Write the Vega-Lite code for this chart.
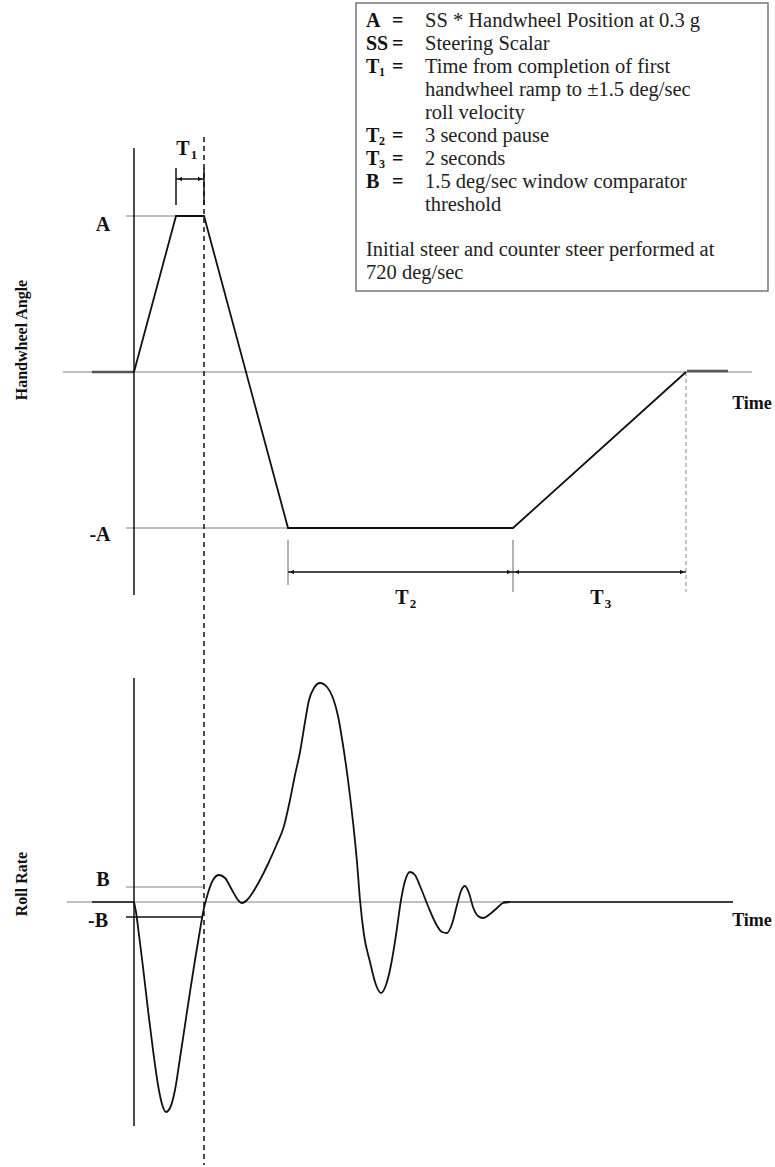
{
  "$schema": "https://vega.github.io/schema/vega-lite/v6.json",
  "width": 775,
  "height": 1167,
  "autosize": {"type": "none"},
  "padding": 0,
  "background": "white",
  "config": {"view": {"stroke": null}},
  "datasets": {
    "legendBox": [{"x": 356, "x2": 768, "y": 3, "y2": 291}],
    "greyRules": [
      {"x": 63, "x2": 752, "y": 372, "y2": 372},
      {"x": 126, "x2": 176, "y": 216, "y2": 216},
      {"x": 126, "x2": 288, "y": 528, "y2": 528},
      {"x": 288, "x2": 288, "y": 540, "y2": 585},
      {"x": 513, "x2": 513, "y": 540, "y2": 592},
      {"x": 67, "x2": 733, "y": 902, "y2": 902},
      {"x": 126, "x2": 203, "y": 887, "y2": 887}
    ],
    "thickGrey": [
      {"x": 92, "x2": 134, "y": 372, "y2": 372},
      {"x": 687, "x2": 728, "y": 371, "y2": 371}
    ],
    "blackRules": [
      {"x": 134, "x2": 134, "y": 148, "y2": 595},
      {"x": 134, "x2": 134, "y": 678, "y2": 1126},
      {"x": 92, "x2": 134, "y": 902, "y2": 902},
      {"x": 503, "x2": 733, "y": 902, "y2": 902},
      {"x": 126, "x2": 203, "y": 917, "y2": 917},
      {"x": 176, "x2": 176, "y": 168, "y2": 205},
      {"x": 204, "x2": 204, "y": 168, "y2": 205},
      {"x": 176, "x2": 204, "y": 179, "y2": 179},
      {"x": 288, "x2": 686, "y": 572, "y2": 572}
    ],
    "dashedBlack": [{"x": 204, "x2": 204, "y": 137, "y2": 1165}],
    "dashedGrey": [{"x": 686, "x2": 686, "y": 372, "y2": 592}],
    "arrowHeads": [
      {"x": 180, "y": 179, "dir": "left"},
      {"x": 200, "y": 179, "dir": "right"},
      {"x": 292, "y": 572, "dir": "left"},
      {"x": 509, "y": 572, "dir": "right"},
      {"x": 517, "y": 572, "dir": "left"},
      {"x": 682, "y": 572, "dir": "right"}
    ],
    "handwheel": [
      {"x": 134, "y": 372},
      {"x": 176, "y": 216},
      {"x": 204, "y": 216},
      {"x": 288, "y": 528},
      {"x": 513, "y": 528},
      {"x": 686, "y": 372}
    ],
    "rollRate": [
      {"x": 134, "y": 902}, {"x": 136, "y": 912}, {"x": 139, "y": 935}, {"x": 143, "y": 967},
      {"x": 148, "y": 1010}, {"x": 153, "y": 1050}, {"x": 158, "y": 1085}, {"x": 162, "y": 1104},
      {"x": 166, "y": 1112}, {"x": 170, "y": 1108}, {"x": 175, "y": 1090}, {"x": 180, "y": 1058},
      {"x": 185, "y": 1025}, {"x": 190, "y": 992}, {"x": 195, "y": 960}, {"x": 200, "y": 930},
      {"x": 204, "y": 908}, {"x": 208, "y": 893}, {"x": 213, "y": 880}, {"x": 219, "y": 875},
      {"x": 225, "y": 878}, {"x": 232, "y": 890}, {"x": 238, "y": 900}, {"x": 242, "y": 903},
      {"x": 247, "y": 900}, {"x": 253, "y": 892}, {"x": 260, "y": 880}, {"x": 268, "y": 864},
      {"x": 276, "y": 846}, {"x": 284, "y": 826}, {"x": 290, "y": 800}, {"x": 295, "y": 775},
      {"x": 300, "y": 752}, {"x": 305, "y": 722}, {"x": 309, "y": 700}, {"x": 314, "y": 688},
      {"x": 320, "y": 683}, {"x": 327, "y": 687}, {"x": 333, "y": 698}, {"x": 338, "y": 716},
      {"x": 343, "y": 745}, {"x": 348, "y": 780}, {"x": 353, "y": 822}, {"x": 357, "y": 862},
      {"x": 360, "y": 900}, {"x": 364, "y": 935}, {"x": 370, "y": 962}, {"x": 376, "y": 985},
      {"x": 381, "y": 993}, {"x": 386, "y": 985}, {"x": 391, "y": 965}, {"x": 396, "y": 935},
      {"x": 401, "y": 900}, {"x": 405, "y": 881}, {"x": 410, "y": 872}, {"x": 415, "y": 875},
      {"x": 420, "y": 886}, {"x": 428, "y": 906}, {"x": 435, "y": 922}, {"x": 442, "y": 932},
      {"x": 447, "y": 933}, {"x": 452, "y": 924}, {"x": 457, "y": 905}, {"x": 461, "y": 891},
      {"x": 465, "y": 886}, {"x": 469, "y": 893}, {"x": 473, "y": 907}, {"x": 478, "y": 916},
      {"x": 483, "y": 918}, {"x": 490, "y": 914}, {"x": 497, "y": 908}, {"x": 503, "y": 903},
      {"x": 510, "y": 902}
    ],
    "boldLabels": [
      {"x": 103, "y": 225, "label": "A"},
      {"x": 100, "y": 535, "label": "-A"},
      {"x": 103, "y": 880, "label": "B"},
      {"x": 98, "y": 921, "label": "-B"},
      {"x": 183, "y": 149, "label": "T"},
      {"x": 402, "y": 598, "label": "T"},
      {"x": 597, "y": 598, "label": "T"}
    ],
    "subscripts": [
      {"x": 194, "y": 155, "label": "1"},
      {"x": 413, "y": 604, "label": "2"},
      {"x": 608, "y": 604, "label": "3"}
    ],
    "timeLabels": [
      {"x": 752, "y": 404, "label": "Time"},
      {"x": 752, "y": 921, "label": "Time"}
    ],
    "axisTitles": [
      {"x": 22, "y": 340, "label": "Handwheel Angle"},
      {"x": 22, "y": 884, "label": "Roll Rate"}
    ],
    "legendKeys": [
      {"x": 366, "y": 21, "label": "A"},
      {"x": 366, "y": 44, "label": "SS"},
      {"x": 366, "y": 67, "label": "T"},
      {"x": 366, "y": 136, "label": "T"},
      {"x": 366, "y": 159, "label": "T"},
      {"x": 366, "y": 182, "label": "B"},
      {"x": 392, "y": 21, "label": "="},
      {"x": 392, "y": 44, "label": "="},
      {"x": 392, "y": 67, "label": "="},
      {"x": 392, "y": 136, "label": "="},
      {"x": 392, "y": 159, "label": "="},
      {"x": 392, "y": 182, "label": "="}
    ],
    "legendSubs": [
      {"x": 379, "y": 72, "label": "1"},
      {"x": 379, "y": 141, "label": "2"},
      {"x": 379, "y": 164, "label": "3"}
    ],
    "legendText": [
      {"x": 425, "y": 21, "label": "SS * Handwheel Position at 0.3 g"},
      {"x": 425, "y": 44, "label": "Steering Scalar"},
      {"x": 425, "y": 67, "label": "Time from completion of first"},
      {"x": 425, "y": 90, "label": "handwheel ramp to ±1.5 deg/sec"},
      {"x": 425, "y": 113, "label": "roll velocity"},
      {"x": 425, "y": 136, "label": "3 second pause"},
      {"x": 425, "y": 159, "label": "2 seconds"},
      {"x": 425, "y": 182, "label": "1.5 deg/sec window comparator"},
      {"x": 425, "y": 205, "label": "threshold"},
      {"x": 366, "y": 250, "label": "Initial steer and counter steer performed at"},
      {"x": 366, "y": 273, "label": "720 deg/sec"}
    ]
  },
  "encoding": {
    "x": {"field": "x", "type": "quantitative", "scale": {"domain": [0, 775], "nice": false, "zero": false}, "axis": null},
    "y": {"field": "y", "type": "quantitative", "scale": {"domain": [0, 1167], "nice": false, "zero": false, "reverse": true}, "axis": null}
  },
  "layer": [
    {
      "data": {"name": "legendBox"},
      "mark": {"type": "rect", "fill": "white", "stroke": "#777777", "strokeWidth": 1.5},
      "encoding": {"x2": {"field": "x2"}, "y2": {"field": "y2"}}
    },
    {
      "data": {"name": "greyRules"},
      "mark": {"type": "rule", "color": "#808080", "strokeWidth": 1.2},
      "encoding": {"x2": {"field": "x2"}, "y2": {"field": "y2"}}
    },
    {
      "data": {"name": "thickGrey"},
      "mark": {"type": "rule", "color": "#555555", "strokeWidth": 2.5},
      "encoding": {"x2": {"field": "x2"}, "y2": {"field": "y2"}}
    },
    {
      "data": {"name": "blackRules"},
      "mark": {"type": "rule", "color": "#111111", "strokeWidth": 1.5},
      "encoding": {"x2": {"field": "x2"}, "y2": {"field": "y2"}}
    },
    {
      "data": {"name": "dashedBlack"},
      "mark": {"type": "rule", "color": "#111111", "strokeWidth": 1.5, "strokeDash": [5, 4]},
      "encoding": {"x2": {"field": "x2"}, "y2": {"field": "y2"}}
    },
    {
      "data": {"name": "dashedGrey"},
      "mark": {"type": "rule", "color": "#888888", "strokeWidth": 1, "strokeDash": [4, 3]},
      "encoding": {"x2": {"field": "x2"}, "y2": {"field": "y2"}}
    },
    {
      "data": {"name": "arrowHeads"},
      "mark": {"type": "point", "filled": true, "color": "#111111", "size": 22, "opacity": 1},
      "encoding": {
        "shape": {"field": "dir", "type": "nominal", "scale": {"domain": ["left", "right"], "range": ["triangle-left", "triangle-right"]}, "legend": null}
      }
    },
    {
      "data": {"name": "handwheel"},
      "mark": {"type": "line", "color": "#111111", "strokeWidth": 1.8}
    },
    {
      "data": {"name": "rollRate"},
      "mark": {"type": "line", "color": "#111111", "strokeWidth": 1.8, "interpolate": "monotone"}
    },
    {
      "data": {"name": "boldLabels"},
      "mark": {"type": "text", "font": "Liberation Serif", "fontWeight": "bold", "fontSize": 20, "align": "center", "baseline": "middle", "color": "#111111"},
      "encoding": {"text": {"field": "label"}}
    },
    {
      "data": {"name": "subscripts"},
      "mark": {"type": "text", "font": "Liberation Serif", "fontWeight": "bold", "fontSize": 13, "align": "center", "baseline": "middle", "color": "#111111"},
      "encoding": {"text": {"field": "label"}}
    },
    {
      "data": {"name": "timeLabels"},
      "mark": {"type": "text", "font": "Liberation Serif", "fontWeight": "bold", "fontSize": 18, "align": "center", "baseline": "middle", "color": "#111111"},
      "encoding": {"text": {"field": "label"}}
    },
    {
      "data": {"name": "axisTitles"},
      "mark": {"type": "text", "font": "Liberation Serif", "fontWeight": "bold", "fontSize": 16, "align": "center", "baseline": "middle", "angle": 270, "color": "#111111"},
      "encoding": {"text": {"field": "label"}}
    },
    {
      "data": {"name": "legendKeys"},
      "mark": {"type": "text", "font": "Liberation Serif", "fontWeight": "bold", "fontSize": 20, "align": "left", "baseline": "middle", "color": "#111111"},
      "encoding": {"text": {"field": "label"}}
    },
    {
      "data": {"name": "legendSubs"},
      "mark": {"type": "text", "font": "Liberation Serif", "fontWeight": "bold", "fontSize": 12, "align": "left", "baseline": "middle", "color": "#111111"},
      "encoding": {"text": {"field": "label"}}
    },
    {
      "data": {"name": "legendText"},
      "mark": {"type": "text", "font": "Liberation Serif", "fontSize": 20.5, "align": "left", "baseline": "middle", "color": "#222222"},
      "encoding": {"text": {"field": "label"}}
    }
  ]
}
